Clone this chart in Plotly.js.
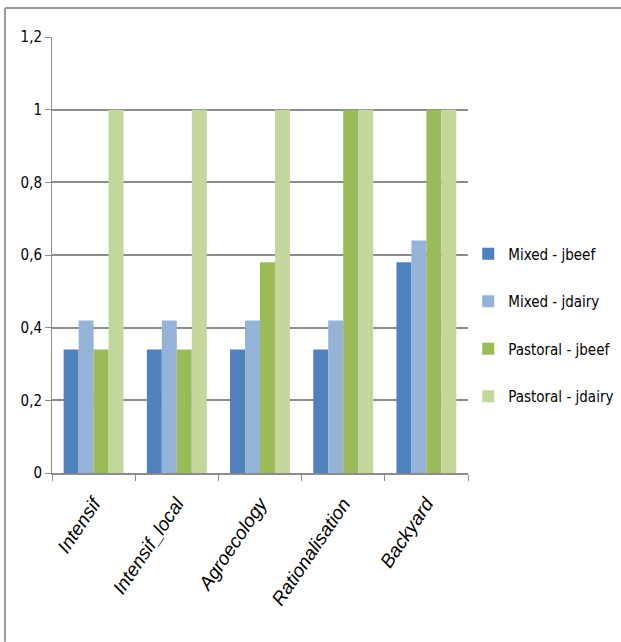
<!DOCTYPE html>
<html><head><meta charset="utf-8">
<script src="https://cdn.plot.ly/plotly-3.0.1.min.js"></script>
<style>html,body{margin:0;padding:0;background:#fff;overflow:hidden}#c{width:621px;height:642px}</style>
</head><body><div id="c"></div>
<script>
const categories = ["Intensif", "Intensif_local", "Agroecology", "Rationalisation", "Backyard"];
const seriesNames = ["Mixed - jbeef", "Mixed - jdairy", "Pastoral - jbeef", "Pastoral - jdairy"];
const mixedJbeef = [0.34, 0.34, 0.34, 0.34, 0.58];
const mixedJdairy = [0.42, 0.42, 0.42, 0.42, 0.64];
const pastoralJbeef = [0.34, 0.34, 0.58, 1, 1];
const pastoralJdairy = [1, 1, 1, 1, 1];
const yTicks = [0, 0.2, 0.4, 0.6, 0.8, 1, 1.2];
const colors = ["#4F81BD", "#95B3D7", "#9BBB59", "#C3D69B"];

const FONT = "'DejaVu Sans Condensed', 'Liberation Sans Narrow', sans-serif";
const XFONT = "'Liberation Sans', Arial, sans-serif";
const values = [mixedJbeef, mixedJdairy, pastoralJbeef, pastoralJdairy];
const data = values.map((v, i) => ({
  type: "bar", x: categories, y: v, name: seriesNames[i],
  legendgroup: "g" + i,
  marker: {color: colors[i], line: {width: 0}},
  hoverinfo: "none"
}));

const layout = {
  width: 621, height: 642,
  margin: {l: 52, r: 153, t: 37, b: 169},
  paper_bgcolor: "#fff", plot_bgcolor: "#fff",
  separators: ",.",
  barmode: "group", bargap: 0.28, bargroupgap: 0,
  font: {family: FONT, size: 15, color: "#000"},
  xaxis: {
    type: "category", tickangle: -56,
    tickvals: categories, ticktext: categories.map(c => "<i>" + c + "</i>"),
    tickfont: {family: XFONT, size: 19, style: "italic", color: "#000"},
    ticklabelstandoff: 10,
    showline: true, linecolor: "#8c8c8c", linewidth: 2,
    ticks: "outside", tickson: "boundaries", ticklen: 6, tickcolor: "#8c8c8c", tickwidth: 1,
    showgrid: false, zeroline: false, fixedrange: true, automargin: false
  },
  yaxis: {
    range: [0, 1.2], tickvals: yTicks, ticktext: yTicks.map(t => String(t).replace(".", ",")),
    tickfont: {family: FONT, size: 15, color: "#000"},
    showline: true, linecolor: "#8c8c8c", linewidth: 1,
    ticks: "outside", ticklen: 6, tickcolor: "#8c8c8c",
    showgrid: true, gridcolor: "#8c8c8c", gridwidth: 2,
    zeroline: false, fixedrange: true, automargin: false
  },
  legend: {
    xref: "container", yref: "container",
    x: 0.754, xanchor: "left", y: 0.63, yanchor: "top",
    font: {family: FONT, size: 15, color: "#000"},
    traceorder: "grouped", tracegroupgap: 25,
    itemwidth: 30, bgcolor: "rgba(0,0,0,0)"
  },
  shapes: [
    {type: "line", xref: "paper", yref: "paper", x0: -0.113, x1: 1.37, y0: 1.0665, y1: 1.0665,
     line: {color: "#9a9a9a", width: 2}},
    {type: "line", xref: "paper", yref: "paper", x0: -0.113, x1: -0.113, y0: 1.0665, y1: -0.387,
     line: {color: "#9a9a9a", width: 2}}
  ]
};
Plotly.newPlot("c", data, layout, {displayModeBar: false, staticPlot: true});
</script></body></html>
